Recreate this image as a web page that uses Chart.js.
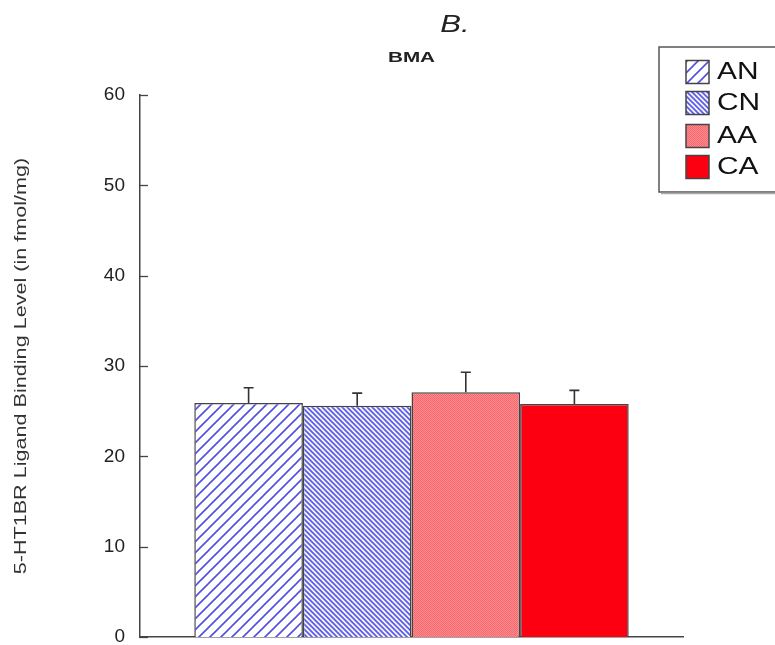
<!DOCTYPE html>
<html lang="en">
<head>
<meta charset="UTF-8">
<script src="https://cdn.jsdelivr.net/npm/chart.js@4.4.1/dist/chart.umd.min.js"></script>
<style>
  html, body { margin: 0; padding: 0; background: #fff; }
  #wrap { width: 775px; height: 645px; }
</style>
</head>
<body>
<div id="wrap"><canvas id="myChart" width="775" height="645"></canvas></div>
<script>
// data
var groups = ["AN", "CN", "AA", "CA"];
var categories = ["BMA"];
var means = [25.9, 25.6, 27.1, 25.8];
var errors = [1.7, 1.4, 2.2, 1.5];
var yTicks = [0, 10, 20, 30, 40, 50, 60];
var yTitle = '5-HT1BR Ligand Binding Level (in fmol/mg)';
var panelLabel = 'B.';

var FONT = "'Liberation Sans', Arial, Helvetica, sans-serif";

function makePattern(kind) {
    var c = document.createElement('canvas');
    var g = c.getContext('2d');
    if (kind === 'wide') {
        c.width = 11; c.height = 11;
        g.fillStyle = '#fff'; g.fillRect(0, 0, 11, 11);
        g.strokeStyle = '#5050e0'; g.lineWidth = 1.6;
        g.beginPath();
        g.moveTo(-1, 12); g.lineTo(12, -1);
        g.moveTo(-1, 1); g.lineTo(1, -1);
        g.moveTo(10, 12); g.lineTo(12, 10);
        g.stroke();
    } else if (kind === 'dense') {
        c.width = 5; c.height = 5;
        g.fillStyle = '#f4f4ff'; g.fillRect(0, 0, 5, 5);
        g.strokeStyle = '#5c5ce6'; g.lineWidth = 1.7;
        g.beginPath();
        g.moveTo(-1, -1); g.lineTo(6, 6);
        g.moveTo(4, -1); g.lineTo(6, 1);
        g.moveTo(-1, 4); g.lineTo(1, 6);
        g.stroke();
    } else {
        c.width = 2; c.height = 2;
        g.fillStyle = '#ff8a8c'; g.fillRect(0, 0, 2, 2);
        g.fillStyle = '#f56a72'; g.fillRect(0, 0, 1, 1); g.fillRect(1, 1, 1, 1);
    }
    return document.getElementById('myChart').getContext('2d').createPattern(c, 'repeat');
}

var fills = [makePattern('wide'), makePattern('dense'), makePattern('dots'), '#fc0012'];

var datasets = groups.map(function (name, i) {
    return {
        label: name,
        data: [means[i]],
        err: [errors[i]],
        backgroundColor: fills[i],
        borderColor: '#444',
        borderWidth: 1.5,
        borderSkipped: 'bottom'
    };
});

// text stretched horizontally, like the source figure
function wideText(ctx, text, x, y, sx) {
    ctx.save();
    ctx.translate(x, y);
    ctx.scale(sx, 1);
    ctx.fillText(text, 0, 0);
    ctx.restore();
}

// error bars, inward y ticks, titles and legend box
var extras = {
    id: 'extras',
    afterDatasetsDraw: function (chart) {
        var ctx = chart.ctx;
        var y = chart.scales.y;
        var ca = chart.chartArea;
        ctx.save();
        ctx.strokeStyle = '#333';
        ctx.lineWidth = 1.6;
        chart.data.datasets.forEach(function (ds, i) {
            var meta = chart.getDatasetMeta(i);
            meta.data.forEach(function (bar, j) {
                var top = y.getPixelForValue(ds.data[j]);
                var hi = y.getPixelForValue(ds.data[j] + ds.err[j]);
                ctx.beginPath();
                ctx.moveTo(bar.x, top);
                ctx.lineTo(bar.x, hi);
                ctx.moveTo(bar.x - 5, hi);
                ctx.lineTo(bar.x + 5, hi);
                ctx.stroke();
            });
        });
        // tick marks pointing into the plot
        ctx.strokeStyle = '#444';
        ctx.lineWidth = 1.3;
        yTicks.forEach(function (v) {
            var py = Math.round(y.getPixelForValue(v)) + 0.5;
            ctx.beginPath();
            ctx.moveTo(ca.left, py);
            ctx.lineTo(ca.left + 8, py);
            ctx.stroke();
        });
        // titles
        ctx.fillStyle = '#222';
        ctx.textAlign = 'center';
        ctx.textBaseline = 'middle';
        ctx.font = 'italic 23px ' + FONT;
        wideText(ctx, panelLabel, 455, 26, 1.35);
        ctx.font = 'bold 15px ' + FONT;
        wideText(ctx, categories[0], (ca.left + ca.right) / 2, 58, 1.38);

        // y axis title, rotated
        ctx.save();
        ctx.fillStyle = '#333';
        ctx.font = '16px ' + FONT;
        ctx.translate(22, (y.top + y.bottom) / 2);
        ctx.rotate(-Math.PI / 2);
        ctx.scale(1.35, 1);
        ctx.fillText(yTitle, 0, 0);
        ctx.restore();

        // legend box
        ctx.fillStyle = '#fff';
        ctx.strokeStyle = '#555';
        ctx.lineWidth = 1.5;
        ctx.fillRect(659, 47, 130, 145);
        ctx.strokeRect(659, 47, 130, 145);
        ctx.strokeStyle = '#aaa';
        ctx.beginPath();
        ctx.moveTo(661, 193.5); ctx.lineTo(775, 193.5);
        ctx.stroke();
        var rows = [72, 103, 136, 167];
        ctx.textAlign = 'left';
        ctx.font = '23px ' + FONT;
        chart.data.datasets.forEach(function (ds, i) {
            ctx.fillStyle = ds.backgroundColor;
            ctx.fillRect(686, rows[i] - 11.5, 23, 23);
            ctx.strokeStyle = '#444';
            ctx.lineWidth = 1.5;
            ctx.strokeRect(686, rows[i] - 11.5, 23, 23);
            ctx.fillStyle = '#111';
            wideText(ctx, ds.label, 717, rows[i] + 1, 1.3);
        });
        ctx.restore();
    }
};

new Chart(document.getElementById('myChart'), {
    type: 'bar',
    data: { labels: categories, datasets: datasets },
    plugins: [extras],
    options: {
        responsive: false,
        animation: false,
        layout: { padding: { top: 95, right: 92, bottom: 8, left: 0 } },
        datasets: { bar: { categoryPercentage: 0.8, barPercentage: 1.0 } },
        plugins: {
            legend: { display: false },
            title: { display: false },
            tooltip: { enabled: false }
        },
        scales: {
            x: {
                ticks: { display: false },
                grid: { display: false, drawTicks: false },
                border: { display: true, color: '#444', width: 1.5 },
                afterFit: function (s) { s.height = 0; }
            },
            y: {
                min: 0,
                max: 60,
                ticks: {
                    stepSize: 10,
                    padding: 15,
                    color: '#222',
                    font: { family: FONT, size: 19 }
                },
                grid: { display: false, drawTicks: false },
                border: { display: true, color: '#444', width: 1.5 },
                title: { display: false },
                afterFit: function (s) {
                    s.width = 140;
                    s.paddingTop = 0;
                    s.paddingBottom = 0;
                }
            }
        }
    }
});
</script>
</body>
</html>
